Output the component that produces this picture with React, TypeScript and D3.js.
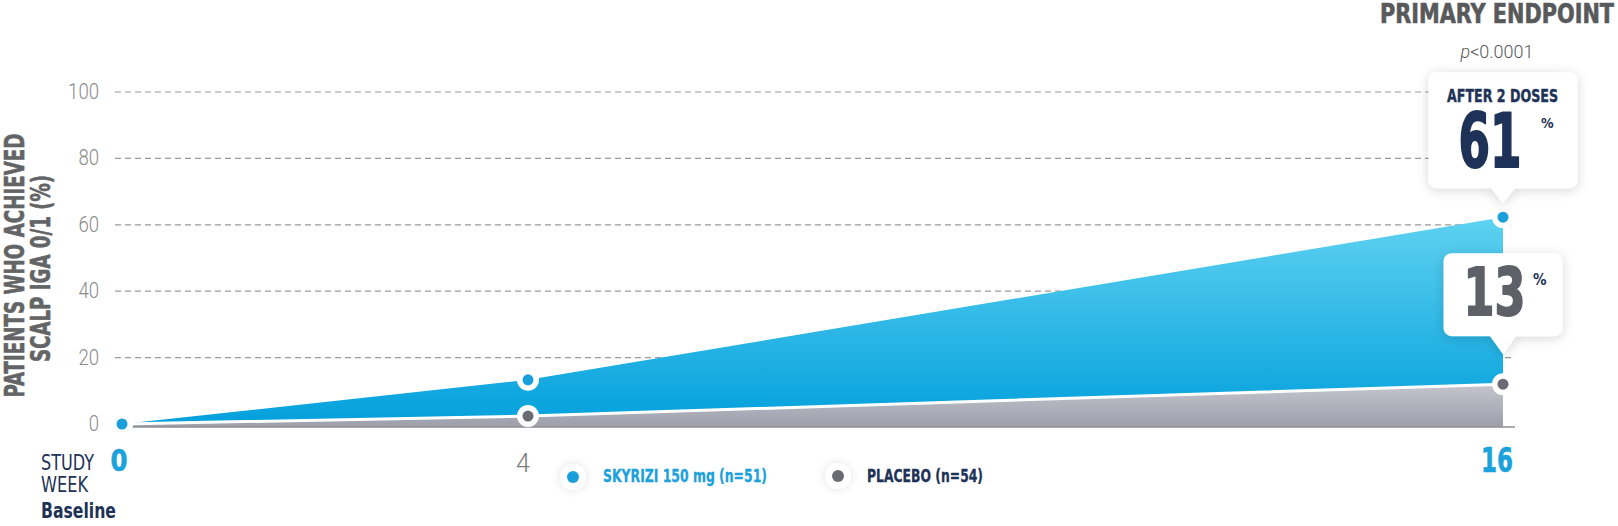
import React from "react";
import * as d3 from "d3";

const weeks = [0, 4, 16];
const weekLabels = ["0", "4", "16"];
const skyriziValues = [0, 13.3, 62.3];
const placeboValues = [0, 2.4, 12.0];
const yTicks = [0, 20, 40, 60, 80, 100];
const seriesNames = ["SKYRIZI 150 mg (n=51)", "PLACEBO (n=54)"];
const calloutValues = ["61", "13"];
const calloutHeader = "AFTER 2 DOSES";
const endpointTitle = "PRIMARY ENDPOINT";
const pValue = "<0.0001";
const yTitleLines = ["PATIENTS WHO ACHIEVED", "SCALP IGA 0/1 (%)"];
const xTitleLines = ["STUDY", "WEEK"];
const baselineLabel = "Baseline";

const W = 1618;
const H = 526;
const NAVY = "#1d3256";
const BLUE = "#1ba1dc";
const DOT_BLUE = "#1a9fdb";
const DOT_GRAY = "#6a6c74";
const COND = "'Liberation Sans Narrow','DejaVu Sans Condensed','Roboto Condensed','Roboto',sans-serif";
const LIGHT = "'Roboto','Liberation Sans Narrow',sans-serif";

function calloutPath(cx: number, tipY: number, w: number, h: number, r: number, pw: number, ph: number) {
  const p = d3.path();
  const left = cx - w / 2;
  const right = cx + w / 2;
  const bottom = tipY - ph;
  const top = bottom - h;
  p.moveTo(left + r, top);
  p.lineTo(right - r, top);
  p.arcTo(right, top, right, top + r, r);
  p.lineTo(right, bottom - r);
  p.arcTo(right, bottom, right - r, bottom, r);
  p.lineTo(cx + pw, bottom);
  p.lineTo(cx, tipY);
  p.lineTo(cx - pw, bottom);
  p.lineTo(left + r, bottom);
  p.arcTo(left, bottom, left, bottom - r, r);
  p.lineTo(left, top + r);
  p.arcTo(left, top, left + r, top, r);
  p.closePath();
  return p.toString();
}

export default function App() {
  const x = d3.scaleLinear().domain(weeks).range([122, 528, 1503]);
  const y = d3.scaleLinear().domain([0, 100]).range([424, 92]);
  const gridX0 = 115;
  const gridX1 = 1515;

  const skyArea = d3
    .area<number>()
    .x((_, i) => x(weeks[i]))
    .y0(y(0))
    .y1((d) => y(d))(skyriziValues) as string;
  const plaArea = d3
    .area<number>()
    .x((_, i) => x(weeks[i]))
    .y0(y(0) + 3)
    .y1((d) => y(d))(placeboValues) as string;
  const plaLine = d3
    .line<number>()
    .x((_, i) => x(weeks[i]))
    .y((d) => y(d))(placeboValues) as string;

  const last = weeks.length - 1;
  const cx16 = x(weeks[last]);
  const tip61 = y(skyriziValues[last]) - 14;
  const tip13 = y(placeboValues[last]) - 30;

  return (
    <svg
      width={W}
      height={H}
      viewBox={`0 0 ${W} ${H}`}
      style={{ position: "absolute", left: 0, top: 0, display: "block", background: "#fff" }}
    >
      <defs>
        <linearGradient id="blueGrad" gradientUnits="userSpaceOnUse" x1="0" y1={y(skyriziValues[last])} x2="0" y2={y(0)}>
          <stop offset="0" stopColor="#5fd2f1" />
          <stop offset="1" stopColor="#03a0dc" />
        </linearGradient>
        <linearGradient id="grayGrad" gradientUnits="userSpaceOnUse" x1="0" y1={y(placeboValues[last])} x2="0" y2={y(0)}>
          <stop offset="0" stopColor="#c4c5cd" />
          <stop offset="1" stopColor="#9fa1ad" />
        </linearGradient>
        <filter id="shadow" x="-30%" y="-30%" width="160%" height="160%">
          <feDropShadow dx="0" dy="2" stdDeviation="6" floodColor="#000" floodOpacity="0.16" />
        </filter>
        <filter id="halo" x="-100%" y="-100%" width="300%" height="300%">
          <feDropShadow dx="0" dy="0" stdDeviation="4" floodColor="#000" floodOpacity="0.12" />
        </filter>
      </defs>

      {/* gridlines */}
      {yTicks.filter((t) => t > 0).map((t) => (
        <line key={t} x1={gridX0} x2={gridX1} y1={y(t)} y2={y(t)} stroke="#9a9a9a" strokeWidth={1.2} strokeDasharray="6 4" />
      ))}

      {/* y tick labels */}
      {yTicks.map((t) => (
        <text
          key={t}
          x={99}
          y={y(t) + 7}
          textAnchor="end"
          fontFamily={LIGHT}
          fontWeight={300}
          fontSize={22}
          fill="#8a8a8a"
          textLength={String(t).length * 10.3}
          lengthAdjust="spacingAndGlyphs"
        >
          {t}
        </text>
      ))}

      {/* areas */}
      <path d={skyArea} fill="url(#blueGrad)" />
      <path d={plaArea} fill="url(#grayGrad)" />
      <path d={plaLine} fill="none" stroke="#fff" strokeWidth={3} />
      <line x1={x(0)} x2={gridX1} y1={y(0) + 3} y2={y(0) + 3} stroke="#8e8f95" strokeWidth={1.6} />

      {/* placebo dots */}
      {placeboValues.map((v, i) => (
        <g key={"p" + i}>
          <circle cx={x(weeks[i])} cy={y(v)} r={11} fill="#fff" />
          <circle cx={x(weeks[i])} cy={y(v)} r={5.5} fill={DOT_GRAY} />
        </g>
      ))}
      {/* skyrizi dots */}
      {skyriziValues.map((v, i) => (
        <g key={"s" + i}>
          <circle cx={x(weeks[i])} cy={y(v)} r={11} fill="#fff" />
          <circle cx={x(weeks[i])} cy={y(v)} r={5.5} fill={DOT_BLUE} />
        </g>
      ))}

      {/* callouts */}
      <path d={calloutPath(cx16, tip61, 149, 116, 8, 12, 15)} fill="#fff" filter="url(#shadow)" />
      <path d={calloutPath(cx16, tip13, 119, 83, 8, 13, 18)} fill="#fff" filter="url(#shadow)" />

      <text x={cx16 - 0.5} y={102} textAnchor="middle" fontFamily={COND} fontWeight={700} fontSize={18} fill={NAVY} stroke={NAVY} strokeWidth={0.4} textLength={111} lengthAdjust="spacingAndGlyphs">
        {calloutHeader}
      </text>
      <text x={1490} y={167} textAnchor="middle" fontFamily={COND} fontWeight={700} fontSize={75} fill={NAVY} stroke={NAVY} strokeWidth={2} strokeLinejoin="round" textLength={63} lengthAdjust="spacingAndGlyphs">
        {calloutValues[0]}
      </text>
      <text x={1541} y={128} fontFamily={COND} fontWeight={700} fontSize={14} fill={NAVY}>
        %
      </text>
      <text x={1494.5} y={315} textAnchor="middle" fontFamily={COND} fontWeight={700} fontSize={66} fill="#5e6068" stroke="#5e6068" strokeWidth={1.8} strokeLinejoin="round" textLength={62} lengthAdjust="spacingAndGlyphs">
        {calloutValues[1]}
      </text>
      <text x={1533} y={285} fontFamily={COND} fontWeight={700} fontSize={15} fill={NAVY}>
        %
      </text>

      {/* header */}
      <text x={1614} y={23} textAnchor="end" fontFamily={COND} fontWeight={700} fontSize={26} fill="#58595b" stroke="#58595b" strokeWidth={0.6} textLength={234} lengthAdjust="spacingAndGlyphs">
        {endpointTitle}
      </text>
      <text x={1497} y={58} textAnchor="middle" fontFamily={LIGHT} fontWeight={300} fontSize={19} fill="#58595b" textLength={73} lengthAdjust="spacingAndGlyphs">
        <tspan fontStyle="italic">p</tspan>
        {pValue}
      </text>

      {/* y axis title */}
      <g transform="translate(24,265.5) rotate(-90)">
        <text x={0} y={0} textAnchor="middle" fontFamily={COND} fontWeight={700} fontSize={26.5} fill="#636466" stroke="#636466" strokeWidth={0.6} textLength={264} lengthAdjust="spacingAndGlyphs">
          {yTitleLines[0]}
        </text>
      </g>
      <g transform="translate(50,268.5) rotate(-90)">
        <text x={0} y={0} textAnchor="middle" fontFamily={COND} fontWeight={700} fontSize={26} fill="#636466" stroke="#636466" strokeWidth={0.6} textLength={187} lengthAdjust="spacingAndGlyphs">
          {yTitleLines[1]}
        </text>
      </g>

      {/* x axis labels */}
      <text x={41} y={470} fontFamily={COND} fontSize={21} fill={NAVY} textLength={53} lengthAdjust="spacingAndGlyphs">
        {xTitleLines[0]}
      </text>
      <text x={41} y={492} fontFamily={COND} fontSize={21} fill={NAVY} textLength={47} lengthAdjust="spacingAndGlyphs">
        {xTitleLines[1]}
      </text>
      <text x={41} y={518} fontFamily={COND} fontWeight={700} fontSize={21} fill={NAVY} textLength={75} lengthAdjust="spacingAndGlyphs">
        {baselineLabel}
      </text>
      <text x={x(weeks[0]) - 3} y={471} textAnchor="middle" fontFamily={COND} fontWeight={700} fontSize={31} fill={BLUE} stroke={BLUE} strokeWidth={0.6} textLength={17} lengthAdjust="spacingAndGlyphs">
        {weekLabels[0]}
      </text>
      <text x={x(weeks[1]) - 5} y={472} textAnchor="middle" fontFamily={LIGHT} fontWeight={300} fontSize={25} fill="#7a7a7a" textLength={14} lengthAdjust="spacingAndGlyphs">
        {weekLabels[1]}
      </text>
      <text x={x(weeks[2]) - 6} y={472} textAnchor="middle" fontFamily={COND} fontWeight={700} fontSize={33} fill={BLUE} stroke={BLUE} strokeWidth={0.6} textLength={32} lengthAdjust="spacingAndGlyphs">
        {weekLabels[2]}
      </text>

      {/* legend */}
      <g>
        <circle cx={573} cy={477} r={13} fill="#fff" filter="url(#halo)" />
        <circle cx={573} cy={477} r={6} fill={DOT_BLUE} />
        <text x={603} y={482} fontFamily={COND} fontWeight={700} fontSize={18} fill={BLUE} stroke={BLUE} strokeWidth={0.3} textLength={164} lengthAdjust="spacingAndGlyphs">
          {seriesNames[0]}
        </text>
        <circle cx={838} cy={476} r={13} fill="#fff" filter="url(#halo)" />
        <circle cx={838} cy={476} r={6} fill={DOT_GRAY} />
        <text x={867} y={482} fontFamily={COND} fontWeight={700} fontSize={18} fill={NAVY} stroke={NAVY} strokeWidth={0.3} textLength={116} lengthAdjust="spacingAndGlyphs">
          {seriesNames[1]}
        </text>
      </g>
    </svg>
  );
}
